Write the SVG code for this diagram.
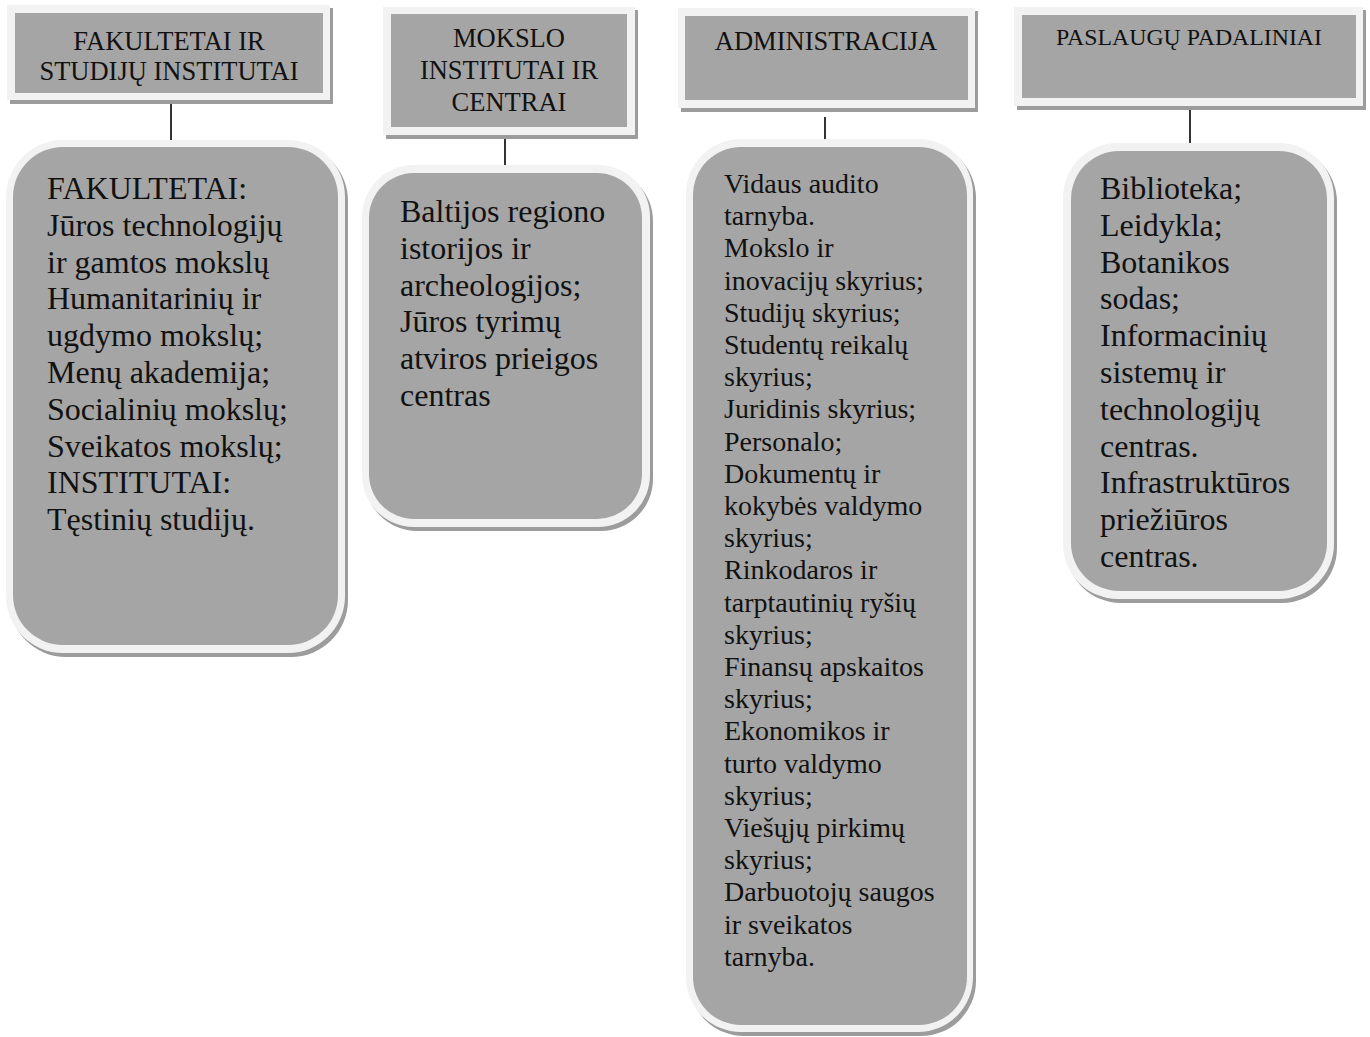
<svg xmlns="http://www.w3.org/2000/svg" width="1370" height="1037" viewBox="0 0 1370 1037">
<style>
.sh{fill:#9c9c9c}
.lt{fill:#f2f2f2}
.in{fill:#a5a5a5}
.ht{font-family:"Liberation Serif","Times New Roman",serif;font-size:26.5px;fill:#111;text-anchor:middle}
.bt{font-family:"Liberation Serif","Times New Roman",serif;font-size:32px;fill:#111}
.st{font-family:"Liberation Serif","Times New Roman",serif;font-size:28px;fill:#111}
.cn{stroke:#000;stroke-width:1.6;fill:none}
</style>
<rect width="1370" height="1037" fill="#ffffff"/>
<g id="connectors">
<line class="cn" x1="171" y1="104" x2="171" y2="140"/>
<line class="cn" x1="505" y1="138" x2="505" y2="166"/>
<line class="cn" x1="825" y1="117" x2="825" y2="140"/>
<line class="cn" x1="1190" y1="108" x2="1190" y2="144"/>
</g>
<g id="h1">
<rect class="sh" x="10" y="8" width="323" height="96"/>
<rect class="lt" x="7" y="5" width="323" height="95"/>
<rect class="in" x="15" y="13" width="308" height="80"/>
<text class="ht" x="169" y="50">FAKULTETAI IR</text>
<text class="ht" x="169" y="80">STUDIJŲ INSTITUTAI</text>
</g>
<g id="h2">
<rect class="sh" x="386" y="10" width="252" height="129"/>
<rect class="lt" x="383" y="7" width="252" height="128"/>
<rect class="in" x="391" y="14" width="236" height="113"/>
<text class="ht" x="509" y="47">MOKSLO</text>
<text class="ht" x="509" y="79">INSTITUTAI IR</text>
<text class="ht" x="509" y="111">CENTRAI</text>
</g>
<g id="h3">
<rect class="sh" x="681" y="11" width="297" height="101"/>
<rect class="lt" x="678" y="8" width="297" height="100"/>
<rect class="in" x="685" y="16" width="283" height="84"/>
<text class="ht" x="826" y="50">ADMINISTRACIJA</text>
</g>
<g id="h4">
<rect class="sh" x="1017" y="10" width="349" height="100"/>
<rect class="lt" x="1014" y="7" width="349" height="99"/>
<rect class="in" x="1022" y="15" width="334" height="83"/>
<text class="ht" x="1189" y="45" style="font-size:23.8px">PASLAUGŲ PADALINIAI</text>
</g>
<g id="b1">
<rect class="sh" x="9" y="144" width="339" height="513" rx="57"/>
<rect class="lt" x="6" y="140" width="339" height="513" rx="57"/>
<rect class="in" x="13" y="147" width="325" height="498" rx="50"/>
<text class="bt" x="47" y="199">
<tspan x="47" y="199">FAKULTETAI:</tspan>
<tspan x="47" y="235.8">Jūros technologijų</tspan>
<tspan x="47" y="272.6">ir gamtos mokslų</tspan>
<tspan x="47" y="309.4">Humanitarinių ir</tspan>
<tspan x="47" y="346.2">ugdymo mokslų;</tspan>
<tspan x="47" y="383">Menų akademija;</tspan>
<tspan x="47" y="419.8">Socialinių mokslų;</tspan>
<tspan x="47" y="456.6">Sveikatos mokslų;</tspan>
<tspan x="47" y="493.4">INSTITUTAI:</tspan>
<tspan x="47" y="530.2">Tęstinių studijų.</tspan>
</text>
</g>
<g id="b2">
<rect class="sh" x="365" y="169" width="288" height="362" rx="52"/>
<rect class="lt" x="362" y="165" width="288" height="362" rx="52"/>
<rect class="in" x="369" y="173" width="273" height="346" rx="45"/>
<text class="bt">
<tspan x="400" y="222">Baltijos regiono</tspan>
<tspan x="400" y="258.8">istorijos ir</tspan>
<tspan x="400" y="295.6">archeologijos;</tspan>
<tspan x="400" y="332.4">Jūros tyrimų</tspan>
<tspan x="400" y="369.2">atviros prieigos</tspan>
<tspan x="400" y="406">centras</tspan>
</text>
</g>
<g id="b3">
<rect class="sh" x="689" y="143" width="287" height="893" rx="55"/>
<rect class="lt" x="686" y="139" width="287" height="893" rx="55"/>
<rect class="in" x="693" y="147" width="274" height="878" rx="48"/>
<text class="st">
<tspan x="724" y="193">Vidaus audito</tspan>
<tspan x="724" y="225.2">tarnyba.</tspan>
<tspan x="724" y="257.4">Mokslo ir</tspan>
<tspan x="724" y="289.6">inovacijų skyrius;</tspan>
<tspan x="724" y="321.8">Studijų skyrius;</tspan>
<tspan x="724" y="354">Studentų reikalų</tspan>
<tspan x="724" y="386.2">skyrius;</tspan>
<tspan x="724" y="418.4">Juridinis skyrius;</tspan>
<tspan x="724" y="450.6">Personalo;</tspan>
<tspan x="724" y="482.8">Dokumentų ir</tspan>
<tspan x="724" y="515">kokybės valdymo</tspan>
<tspan x="724" y="547.2">skyrius;</tspan>
<tspan x="724" y="579.4">Rinkodaros ir</tspan>
<tspan x="724" y="611.6">tarptautinių ryšių</tspan>
<tspan x="724" y="643.8">skyrius;</tspan>
<tspan x="724" y="676">Finansų apskaitos</tspan>
<tspan x="724" y="708.2">skyrius;</tspan>
<tspan x="724" y="740.4">Ekonomikos ir</tspan>
<tspan x="724" y="772.6">turto valdymo</tspan>
<tspan x="724" y="804.8">skyrius;</tspan>
<tspan x="724" y="837">Viešųjų pirkimų</tspan>
<tspan x="724" y="869.2">skyrius;</tspan>
<tspan x="724" y="901.4">Darbuotojų saugos</tspan>
<tspan x="724" y="933.6">ir sveikatos</tspan>
<tspan x="724" y="965.8">tarnyba.</tspan>
</text>
</g>
<g id="b4">
<rect class="sh" x="1066" y="147" width="271" height="456" rx="55"/>
<rect class="lt" x="1063" y="143" width="271" height="456" rx="55"/>
<rect class="in" x="1071" y="151" width="256" height="440" rx="48"/>
<text class="bt">
<tspan x="1100" y="199">Biblioteka;</tspan>
<tspan x="1100" y="235.8">Leidykla;</tspan>
<tspan x="1100" y="272.6">Botanikos</tspan>
<tspan x="1100" y="309.4">sodas;</tspan>
<tspan x="1100" y="346.2">Informacinių</tspan>
<tspan x="1100" y="383">sistemų ir</tspan>
<tspan x="1100" y="419.8">technologijų</tspan>
<tspan x="1100" y="456.6">centras.</tspan>
<tspan x="1100" y="493.4">Infrastruktūros</tspan>
<tspan x="1100" y="530.2">priežiūros</tspan>
<tspan x="1100" y="567">centras.</tspan>
</text>
</g>
</svg>
